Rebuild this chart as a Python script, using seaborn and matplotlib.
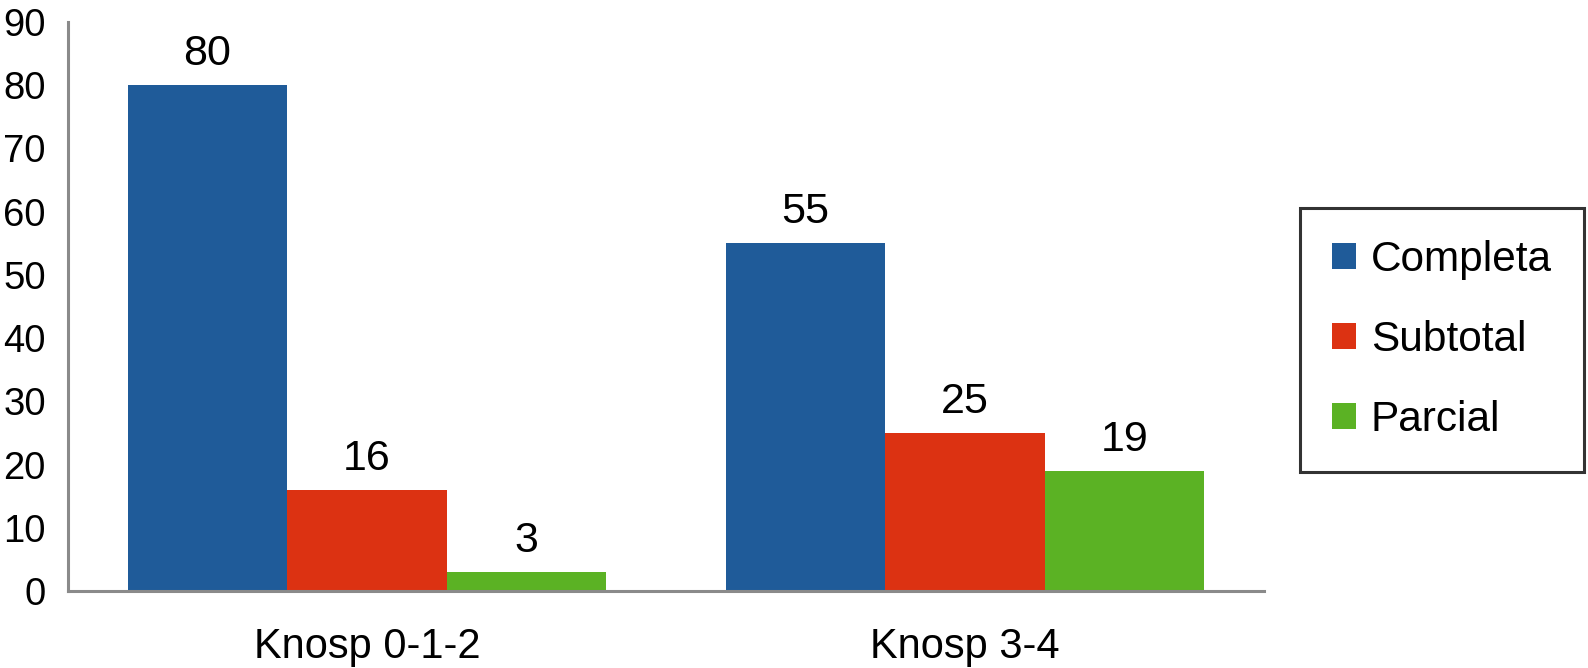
import matplotlib
matplotlib.use("Agg")
import matplotlib.pyplot as plt
import seaborn as sns
import pandas as pd

categories = ["Knosp 0-1-2", "Knosp 3-4"]
series = ["Completa", "Subtotal", "Parcial"]
completa = [80, 55]
subtotal = [16, 25]
parcial = [3, 19]
colors = ["#1F5B99", "#DC3212", "#5BB224"]

rows = []
for name, vals in zip(series, [completa, subtotal, parcial]):
    for c, v in zip(categories, vals):
        rows.append({"cat": c, "serie": name, "valor": v})
df = pd.DataFrame(rows)

sns.set_style("white")
plt.rcParams["font.family"] = ["Liberation Sans", "DejaVu Sans"]
plt.rcParams["text.color"] = "black"
plt.rcParams["xtick.color"] = "black"
plt.rcParams["ytick.color"] = "black"

fig = plt.figure(figsize=(15.88, 6.68), dpi=100)
ax = fig.add_axes([68 / 1588, 1 - 591 / 668, (1264 - 68) / 1588, (591 - 22) / 668])

sns.barplot(data=df, x="cat", y="valor", hue="serie", order=categories,
            hue_order=series, palette=colors, width=0.8, saturation=1,
            linewidth=0, ax=ax, legend=True)

for cont in ax.containers:
    for bar in cont:
        h = bar.get_height()
        ax.annotate(f"{int(h)}", (bar.get_x() + bar.get_width() / 2, h),
                    xytext=(0, 14.5), textcoords="offset points",
                    ha="center", va="baseline", fontsize=31, color="black")

ax.set_xlim(-0.5, 1.5)
ax.set_ylim(0, 90)
ax.set_yticks(range(0, 100, 10))
ax.tick_params(axis="both", length=0)
ax.tick_params(axis="y", pad=16, labelsize=27.5)
ax.tick_params(axis="x", pad=26, labelsize=30)
ax.set_xlabel("")
ax.set_ylabel("")
for s in ["top", "right"]:
    ax.spines[s].set_visible(False)
for s in ["left", "bottom"]:
    ax.spines[s].set_color("#8a8a8a")
    ax.spines[s].set_linewidth(2.2)

handles, labels = ax.get_legend_handles_labels()
leg = ax.legend(handles, labels, loc="center left",
                bbox_to_anchor=(1300 / 1588, 1 - 340 / 668),
                bbox_transform=fig.transFigure,
                frameon=True, fancybox=False, fontsize=30.5,
                handlelength=0.57, handleheight=0.57, handletextpad=0.35,
                labelspacing=0.95, borderpad=0.75, borderaxespad=0)
leg.get_frame().set_edgecolor("black")
leg.get_frame().set_linewidth(2.2)
for t in leg.get_texts():
    t.set_color("black")

fig.savefig("out.png", dpi=100)
